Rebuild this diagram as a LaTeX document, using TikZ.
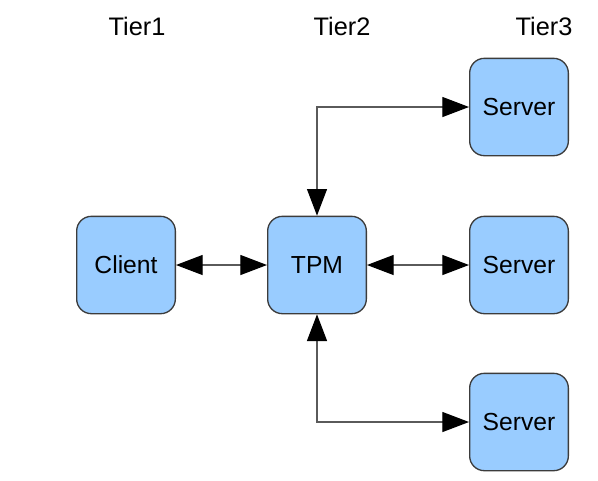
\documentclass[tikz,border=0pt]{standalone}
\usepackage{fontspec}
\setmainfont{Liberation Sans}
\usetikzlibrary{arrows.meta}
\definecolor{boxblue}{HTML}{99CCFF}
\definecolor{boxedge}{HTML}{3C3C3C}
\definecolor{linegray}{HTML}{5A5A5A}

\begin{document}
\begin{tikzpicture}[x=0.75pt, y=-0.75pt,
 tierbox/.style={draw=boxedge, line width=1pt, fill=boxblue, rounded corners=11pt, minimum width=74pt, minimum height=73pt, inner sep=0pt, font=\fontsize{18.5}{20}\selectfont},
 tierlabel/.style={anchor=base, font=\fontsize{19}{21}\selectfont},
 link/.style={draw=linegray, line width=0.9pt, {Triangle[length=20pt,width=15pt,color=black]}-{Triangle[length=20pt,width=15pt,color=black]}}]
\useasboundingbox (0,0) rectangle (598,480);
\node[tierlabel] (tierA) at (137,35) {Tier1};
\node[tierlabel] (tierB) at (342,35) {Tier2};
\node[tierlabel] (tierC) at (544,35) {Tier3};
\node[tierbox] (client) at (126,265) {Client};
\node[tierbox] (tpm) at (317,265) {TPM};
\node[tierbox] (srvA) at (519,107) {Server};
\node[tierbox] (srvB) at (519,265) {Server};
\node[tierbox] (srvC) at (519,422) {Server};
\draw[link] (client) -- (tpm);
\draw[link] (tpm) -- (srvB);
\draw[link] (tpm.north) |- (srvA.west);
\draw[link] (tpm.south) |- (srvC.west);
\end{tikzpicture}
\end{document}
